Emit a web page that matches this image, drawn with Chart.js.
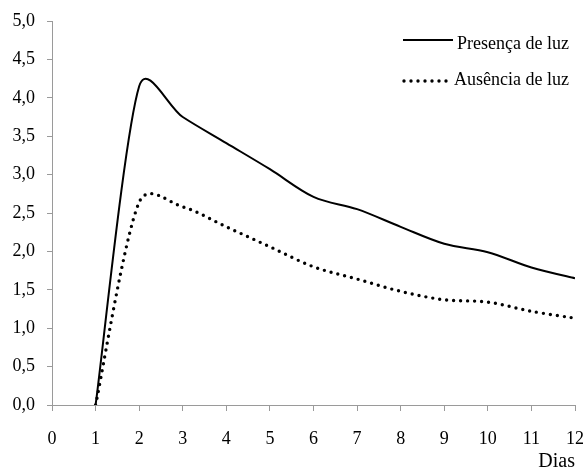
<!DOCTYPE html>
<html>
<head>
<meta charset="utf-8">
<script src="https://cdn.jsdelivr.net/npm/chart.js@4/dist/chart.umd.min.js"></script>
<style>
  html, body { margin: 0; padding: 0; background: #ffffff; }
  #c { display: block; }
</style>
</head>
<body>
<canvas id="c" width="583" height="472"></canvas>
<script>
// ---- data ----
const days = [1, 2, 3, 4, 5, 6, 7, 8, 9, 10, 11, 12];
const presencaLuz = [0, 4.15, 3.75, 3.41, 3.07, 2.71, 2.55, 2.32, 2.10, 1.99, 1.79, 1.65];
const ausenciaLuz = [0, 2.64, 2.58, 2.32, 2.06, 1.80, 1.64, 1.48, 1.37, 1.34, 1.22, 1.13];
const seriesLabels = ['Presença de luz', 'Ausência de luz'];
const xAxisTitle = 'Dias';
const xTicks = [0, 1, 2, 3, 4, 5, 6, 7, 8, 9, 10, 11, 12];
const yTicks = [0, 0.5, 1, 1.5, 2, 2.5, 3, 3.5, 4, 4.5, 5];

const FONT = "'Liberation Serif', 'Times New Roman', serif";
const AXIS_COLOR = '#9a9a9a';

const toPoints = (xs, ys) => xs.map((x, i) => ({ x: x, y: ys[i] }));

// Spreadsheet-style smoothing: tangent parallel to neighbour chord,
// control distance 1/6 of that chord, capped at half the adjacent segment.
const spreadsheetSmoothing = {
  id: 'spreadsheetSmoothing',
  beforeDatasetDraw(chart, args) {
    const meta = args.meta;
    const line = meta.dataset;
    if (!line) return;
    line.updateControlPoints(chart.chartArea, meta.iScale.axis);
    const pts = meta.data;
    const n = pts.length;
    for (let i = 0; i < n; i++) {
      const p = pts[i];
      const a = pts[Math.max(i - 1, 0)];
      const b = pts[Math.min(i + 1, n - 1)];
      const dx = b.x - a.x, dy = b.y - a.y;
      const d02 = Math.hypot(dx, dy);
      const d01 = Math.hypot(p.x - a.x, p.y - a.y);
      const d12 = Math.hypot(b.x - p.x, b.y - p.y);
      let f0 = 1 / 6, f1 = 1 / 6;
      if (d02 > 0) {
        f0 = Math.min(f0, 0.5 * d01 / d02);
        f1 = Math.min(f1, 0.5 * d12 / d02);
      }
      p.cp1x = p.x - f0 * dx; p.cp1y = p.y - f0 * dy;
      p.cp2x = p.x + f1 * dx; p.cp2y = p.y + f1 * dy;
    }
    line._path = undefined;
  }
};

// legend drawn inside the plot, top right (like the reference)
const insideLegend = {
  id: 'insideLegend',
  afterDraw(chart, args, opts) {
    const ctx = chart.ctx;
    ctx.save();
    chart.data.datasets.forEach((ds, i) => {
      const row = opts.rows[i];
      ctx.beginPath();
      ctx.strokeStyle = ds.borderColor;
      ctx.lineWidth = ds.borderWidth;
      ctx.lineCap = ds.borderCapStyle || 'butt';
      ctx.setLineDash(ds.borderDash || []);
      ctx.moveTo(row.x0, row.ly);
      ctx.lineTo(row.x1, row.ly);
      ctx.stroke();
      ctx.setLineDash([]);
      ctx.fillStyle = '#000';
      ctx.font = opts.font;
      ctx.textAlign = 'left';
      ctx.textBaseline = 'alphabetic';
      ctx.fillText(ds.label, row.tx, row.ty);
    });
    ctx.restore();
  }
};

new Chart(document.getElementById('c'), {
  type: 'line',
  data: {
    datasets: [
      {
        label: seriesLabels[0],
        data: toPoints(days, presencaLuz),
        borderColor: '#000000',
        borderWidth: 2,
        pointRadius: 0,
        tension: 0.3,
        capBezierPoints: false,
        fill: false
      },
      {
        label: seriesLabels[1],
        data: toPoints(days, ausenciaLuz),
        borderColor: '#000000',
        borderWidth: 3.4,
        borderDash: [0, 7],
        borderCapStyle: 'round',
        pointRadius: 0,
        tension: 0.3,
        capBezierPoints: false,
        fill: false
      }
    ]
  },
  options: {
    responsive: false,
    animation: false,
    devicePixelRatio: 1,
    layout: { padding: { top: 21, right: 8, left: 0, bottom: 0 } },
    plugins: {
      legend: { display: false },
      tooltip: { enabled: false },
      insideLegend: {
        font: "18px " + FONT,
        rows: [
          { x0: 403, x1: 453, ly: 40, tx: 457, ty: 49 },
          { x0: 404, x1: 447, ly: 81, tx: 454, ty: 85 }
        ]
      }
    },
    scales: {
      x: {
        type: 'linear',
        min: 0,
        max: 12,
        afterBuildTicks: (s) => { s.ticks = xTicks.map(v => ({ value: v })); },
        afterFit: (s) => { s.height = 67; s.paddingLeft = 0; s.paddingRight = 0; },
        ticks: {
          color: '#000',
          font: { family: FONT, size: 18 },
          padding: 17,
          maxRotation: 0,
          autoSkip: false,
          callback: (v) => String(v)
        },
        grid: { drawOnChartArea: false, tickLength: 6, color: AXIS_COLOR, tickColor: AXIS_COLOR },
        border: { color: AXIS_COLOR, width: 1 },
        title: {
          display: true,
          text: xAxisTitle,
          align: 'end',
          color: '#000',
          font: { family: FONT, size: 20, lineHeight: 1 },
          padding: { top: 0, bottom: 0 }
        }
      },
      y: {
        min: 0,
        max: 5,
        afterBuildTicks: (s) => { s.ticks = yTicks.map(v => ({ value: v })); },
        afterFit: (s) => { s.width = 52; s.paddingTop = 0; s.paddingBottom = 0; },
        ticks: {
          color: '#000',
          font: { family: FONT, size: 18 },
          padding: 12,
          autoSkip: false,
          callback: (v) => Number(v).toFixed(1).replace('.', ',')
        },
        grid: { drawOnChartArea: false, tickLength: 5, color: AXIS_COLOR, tickColor: AXIS_COLOR },
        border: { color: AXIS_COLOR, width: 1 }
      }
    }
  },
  plugins: [spreadsheetSmoothing, insideLegend]
});
</script>
</body>
</html>
